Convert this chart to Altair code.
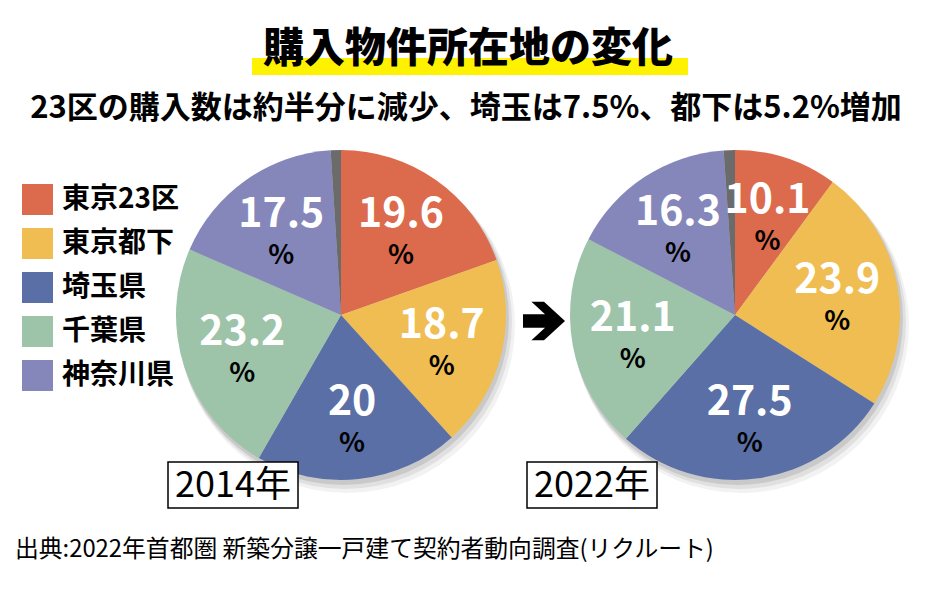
import altair as alt
import pandas as pd

# ---------------- data ----------------
regions = ["東京23区", "東京都下", "埼玉県", "千葉県", "神奈川県", "その他"]
colors = ["#dc6a4c", "#efbd51", "#5a6fa6", "#9dc3a9", "#8587bb", "#6b6b6b"]
share_2014 = [19.6, 18.7, 20.0, 23.2, 17.5, 1.0]
share_2022 = [10.1, 23.9, 27.5, 21.1, 16.3, 1.1]
label_2014 = ["19.6", "18.7", "20", "23.2", "17.5", ""]
label_2022 = ["10.1", "23.9", "27.5", "21.1", "16.3", ""]
legend_items = regions[:5]
years = ["2014年", "2022年"]

title_text = "購入物件所在地の変化"
subtitle_text = "23区の購入数は約半分に減少、埼玉は7.5%、都下は5.2%増加"
source_text = "出典:2022年首都圏 新築分譲一戸建て契約者動向調査(リクルート)"

FONT = "Noto Sans CJK JP"
R = 165
one = pd.DataFrame({"k": [0]})

color_enc = alt.Color(
    "region:N",
    scale=alt.Scale(domain=regions, range=colors),
    legend=alt.Legend(
        title=None, orient="none", legendX=14, legendY=176,
        values=legend_items, symbolType="square", symbolSize=961,
        symbolStrokeWidth=0, symbolOpacity=1, labelFontSize=28,
        labelFont=FONT, labelFontWeight="bold", labelColor="black",
        rowPadding=13, labelOffset=9, padding=0, labelLimit=300,
    ),
)


def shadow(cx, cy):
    layers = []
    for dx, dy, grow, op in [(2, 4, 2, 0.10), (4, 7, 4, 0.07), (6, 10, 6, 0.05)]:
        d = 2 * R + grow
        layers.append(
            alt.Chart(one).mark_circle(color="black", opacity=op).encode(
                x=alt.value(cx + dx), y=alt.value(cy + dy), size=alt.value(d * d)
            )
        )
    return layers


def pie(shares, labels, cx, cy):
    df = pd.DataFrame({"region": regions, "share": shares, "label": labels,
                       "order": list(range(len(regions)))})
    base = alt.Chart(df).encode(
        theta=alt.Theta("share:Q", stack=True),
        order=alt.Order("order:Q"),
        x=alt.value(cx), y=alt.value(cy),
    )
    arcs = base.mark_arc(outerRadius=R, stroke=None).encode(color=color_enc)
    nums = base.mark_text(radius=104, dy=-15, font=FONT, fontSize=41,
                          fontWeight="bold", color="white").encode(text="label:N")
    pct = base.transform_calculate(pct="datum.label == '' ? '' : '%'").mark_text(
        radius=104, dy=26, font=FONT, fontSize=27, fontWeight="bold", color="black"
    ).encode(text="pct:N")
    return [arcs, nums, pct]


pie1 = pie(share_2014, label_2014, 333, 307)
pie2 = pie(share_2022, label_2022, 727, 307)

# title with yellow marker
title_bar = alt.Chart(one).mark_rect(color="#fff200").encode(
    x=alt.value(244), x2=alt.value(680), y=alt.value(50), y2=alt.value(67))
title = alt.Chart(one).mark_text(font=FONT, fontSize=41, fontWeight=900,
                                 color="black", baseline="middle").encode(
    x=alt.value(460), y=alt.value(42), text=alt.value(title_text))
subtitle = alt.Chart(one).mark_text(font=FONT, fontSize=31, fontWeight="bold",
                                    color="black", baseline="middle").encode(
    x=alt.value(458), y=alt.value(101), text=alt.value(subtitle_text))

# arrow
arrow_path = ("M -1 -0.32 L 0.05 -0.32 L -0.6 -0.92 L 0 -0.92 L 1 0 "
              "L 0 0.92 L -0.6 0.92 L 0.05 0.32 L -1 0.32 Z")
arrow = alt.Chart(one).mark_point(shape=arrow_path, filled=True, color="black",
                                  opacity=1, strokeWidth=0).encode(
    x=alt.value(536), y=alt.value(313), size=alt.value(1764))

# year boxes
boxes = []
for yr, x0 in zip(years, [160, 519]):
    boxes.append(alt.Chart(one).mark_rect(fill="white", stroke="black", strokeWidth=1.5).encode(
        x=alt.value(x0), x2=alt.value(x0 + 130), y=alt.value(454), y2=alt.value(500)))
    boxes.append(alt.Chart(one).mark_text(font=FONT, fontSize=36, fontWeight="normal",
                                          color="black", baseline="middle").encode(
        x=alt.value(x0 + 65), y=alt.value(478), text=alt.value(yr)))

source = alt.Chart(one).mark_text(font=FONT, fontSize=23.8, color="black",
                                  align="left", baseline="middle").encode(
    x=alt.value(7), y=alt.value(542), text=alt.value(source_text))

layers = (shadow(333, 307) + shadow(727, 307) + pie1 + pie2 +
          [title_bar, title, subtitle, arrow] + boxes + [source])

chart = alt.layer(*layers).properties(
    width=918, height=578, padding=0, autosize="none", background="white"
).configure_view(strokeWidth=0)

chart.save("out.html", embed_options={"renderer": "svg", "actions": False})
